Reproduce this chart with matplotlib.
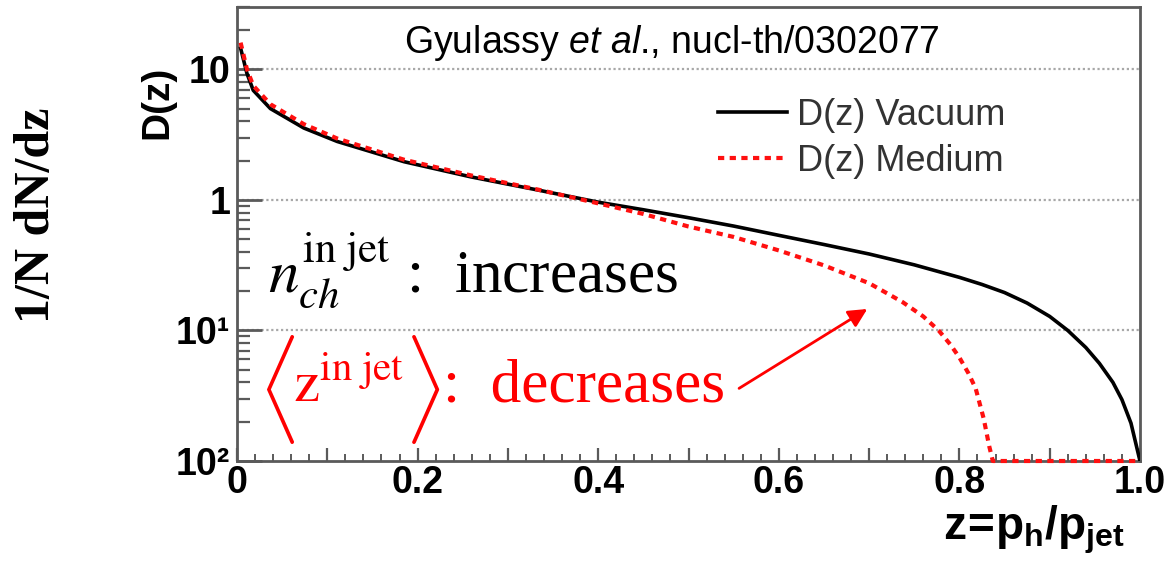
import numpy as np
import matplotlib
matplotlib.use("Agg")
import matplotlib.pyplot as plt
from matplotlib.ticker import FixedLocator, MultipleLocator, FuncFormatter, NullFormatter
from matplotlib.lines import Line2D

plt.rcParams["mathtext.fontset"] = "custom"
plt.rcParams["mathtext.bf"] = "Liberation Sans:bold"
plt.rcParams["mathtext.it"] = "Liberation Sans:italic"
plt.rcParams["mathtext.rm"] = "Liberation Sans"

# --- data ---
z_vac = [0.004, 0.011, 0.018, 0.037, 0.074, 0.111, 0.185, 0.259, 0.333, 0.4,
         0.45, 0.5, 0.55, 0.6, 0.65, 0.7, 0.75, 0.8, 0.825, 0.85, 0.875, 0.9,
         0.92, 0.94, 0.955, 0.97, 0.98, 0.99, 1.0]
d_vac = [14.5, 9.3, 6.9, 5.0, 3.55, 2.8, 1.96, 1.5, 1.19, 0.96,
         0.84, 0.73, 0.63, 0.535, 0.455, 0.385, 0.318, 0.255, 0.225, 0.195, 0.162, 0.128,
         0.10, 0.074, 0.056, 0.040, 0.0295, 0.0195, 0.01]

z_med = [0.004, 0.011, 0.018, 0.037, 0.074, 0.111, 0.185, 0.259, 0.333, 0.4,
         0.45, 0.5, 0.55, 0.6, 0.65, 0.7, 0.737, 0.76, 0.777, 0.79, 0.8, 0.81,
         0.818, 0.827, 0.833, 0.837, 0.9, 1.0]
d_med = [16.0, 10.0, 7.5, 5.4, 3.8, 2.95, 2.03, 1.54, 1.2, 0.94,
         0.78, 0.625, 0.52, 0.41, 0.315, 0.23, 0.165, 0.128, 0.10, 0.078, 0.062, 0.047,
         0.036, 0.021, 0.013, 0.01, 0.01, 0.01]

series_labels = ["D(z) Vacuum", "D(z) Medium"]
ytick_vals = [10, 1, 0.1, 0.01]
ytick_text = ["10", "1", "10\u00b9", "10\u00b2"]   # as printed (minus signs lost)
xtick_major = [0.0, 0.1, 0.2, 0.3, 0.4, 0.5, 0.6, 0.7, 0.8, 0.9, 1.0]

# arrow ends (z, D)
arrow_tail = (0.556, 0.036)
arrow_head = (0.698, 0.146)

W, H = 1176, 562
fig = plt.figure(figsize=(W / 100, H / 100), dpi=100)
ax = fig.add_axes([237 / W, 1 - 461 / H, (1140 - 237) / W, (461 - 7) / H])

frame = "#5a5a5a"
ax.plot(z_vac, d_vac, color="black", lw=2.6, zorder=3)
ax.plot(z_med, d_med, color="#ff1010", lw=3.0, ls=(0, (1.5, 1.3)),
        clip_on=False, zorder=3)

ax.set_yscale("log")
ax.set_xlim(0, 1.0)
ax.set_ylim(0.01, 30)

for s in ax.spines.values():
    s.set_color(frame)
    s.set_linewidth(2)

# grid: dotted at the decade lines
for v in [10, 1, 0.1]:
    ax.axhline(v, color="#a8a8a8", lw=1.6, ls=(0, (1, 1.2)), zorder=0)

ax.yaxis.set_major_locator(FixedLocator(ytick_vals))
ax.yaxis.set_major_formatter(FuncFormatter(
    lambda v, p: ytick_text[ytick_vals.index(v)] if v in ytick_vals else ""))
minor = [m * 10.0 ** e for e in range(-2, 2) for m in range(2, 10)]
ax.yaxis.set_minor_locator(FixedLocator(minor))
ax.yaxis.set_minor_formatter(NullFormatter())

ax.xaxis.set_major_locator(FixedLocator(xtick_major))
ax.xaxis.set_major_formatter(FuncFormatter(
    lambda v, p: ("0" if v == 0 else ("1.0" if v == 1 else f"{v:.1f}"))
    if round(v * 10) % 2 == 0 else ""))
ax.xaxis.set_minor_locator(MultipleLocator(0.02))

ax.tick_params(axis="y", which="major", direction="in", length=18, width=2,
               color=frame, pad=5)
ax.tick_params(axis="y", which="minor", direction="in", length=9.5, width=1.6,
               color=frame)
ax.tick_params(axis="x", which="major", direction="in", length=9.5, width=1.6,
               color=frame, pad=3)
ax.tick_params(axis="x", which="minor", direction="in", length=5, width=1.4,
               color=frame)
for lab in ax.get_xticklabels() + ax.get_yticklabels():
    lab.set_fontfamily("Liberation Sans")
    lab.set_fontweight("bold")
    lab.set_fontsize(27)

# legend
handles = [Line2D([], [], color="black", lw=2.6),
           Line2D([], [], color="#ff1010", lw=3.0, ls=(0, (1.5, 1.3)))]
leg = ax.legend(handles, series_labels, loc="upper left",
                bbox_to_anchor=(718 / W, 1 - 98 / H), bbox_transform=fig.transFigure,
                frameon=False, handlelength=1.9, handletextpad=0.3,
                labelspacing=0.3, borderpad=0, borderaxespad=0,
                prop={"family": "Liberation Sans", "size": 26})
for t in leg.get_texts():
    t.set_color("#333333")

# reference text at the top
fig.text(672 / W, 1 - 43 / H, "Gyulassy $\\it{et\\ al}$., nucl-th/0302077",
         ha="center", va="center", fontsize=27, family="Liberation Sans")

# axis labels
fig.text(157 / W, 1 - 102 / H, "D(z)", rotation=90, ha="center", va="center",
         fontsize=28, fontweight="bold", family="Liberation Sans")
fig.text(1125 / W, 1 - 530 / H, r"$\mathbf{z\!=\!p_{h}/p_{jet}}$", ha="right",
         va="center", fontsize=33, family="Liberation Sans")
fig.text(37 / W, 1 - 215 / H, "1/N dN/dz", rotation=90, ha="center",
         va="center", fontsize=36, fontweight="bold", family="Liberation Serif")

# annotations
fig.text(268 / W, 1 - 292 / H, r"$n_{ch}^{\mathrm{in\ jet}}$ :  increases",
         ha="left", va="baseline", fontsize=44, family="Liberation Serif",
         math_fontfamily="stix", color="black")
red = "#ff0000"
fig.text(276 / W, 1 - 390 / H, r"$\langle$", ha="center", va="center",
         fontsize=66, math_fontfamily="cm", color=red)
fig.text(293 / W, 1 - 402 / H, r"$\mathrm{z}^{\mathrm{in\ jet}}$",
         ha="left", va="baseline", fontsize=42, math_fontfamily="stix", color=red)
fig.text(422 / W, 1 - 390 / H, r"$\rangle$", ha="center", va="center",
         fontsize=66, math_fontfamily="cm", color=red)
fig.text(443 / W, 1 - 402 / H, ":  decreases", ha="left", va="baseline",
         fontsize=44, family="Liberation Serif", color=red)

ax.annotate("", xy=arrow_head, xytext=arrow_tail,
            arrowprops=dict(arrowstyle="-|>", color=red, lw=2,
                            mutation_scale=28, shrinkA=0, shrinkB=0))

fig.savefig("out.png", dpi=100)
